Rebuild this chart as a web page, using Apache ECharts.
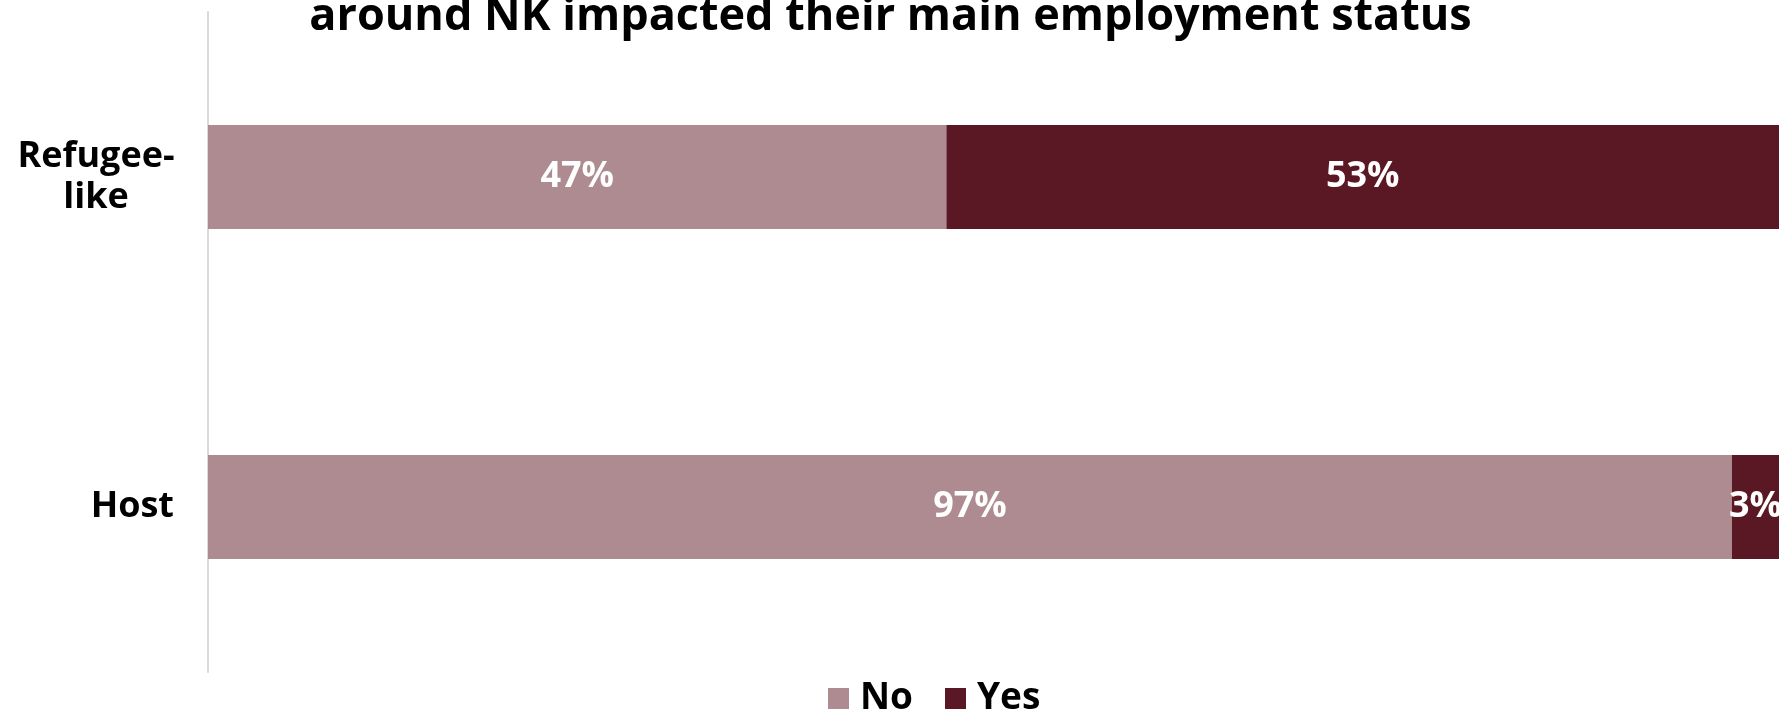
<!DOCTYPE html>
<html>
<head>
<meta charset="utf-8">
<style>
  html, body { margin: 0; padding: 0; background: #fff; }
  #chart { width: 1781px; height: 711px; }
</style>
<script src="https://cdn.jsdelivr.net/npm/echarts@6/dist/echarts.min.js"></script>
</head>
<body>
<div id="chart"></div>
<script>
// Share of respondents whose main employment status was impacted (%)
const categories = ['Refugee-like', 'Host'];
const noValues = [47, 97];
const yesValues = [53, 3];
const seriesNames = ['No', 'Yes'];
const titleText = 'around NK impacted their main employment status';

const FONT = '"Open Sans", "Noto Sans", sans-serif';
const COLOR_NO = '#ad8b91';
const COLOR_YES = '#5a1824';

const chart = echarts.init(document.getElementById('chart'));

const labelStyle = {
  show: true,
  position: 'inside',
  color: '#fff',
  fontFamily: FONT,
  fontWeight: 'bold',
  fontSize: 36,
  formatter: p => p.value + '%'
};

chart.setOption({
  animation: false,
  backgroundColor: '#fff',
  title: {
    text: titleText,
    left: 'center',
    top: -10,
    textStyle: {
      fontFamily: FONT,
      fontWeight: 'bold',
      fontSize: 45,
      color: '#000'
    }
  },
  legend: {
    data: seriesNames,
    left: 823,
    top: 675,
    itemWidth: 21,
    itemHeight: 21,
    itemGap: 32,
    icon: 'rect',
    textStyle: {
      fontFamily: FONT,
      fontWeight: 'bold',
      fontSize: 37,
      color: '#000',
      padding: [0, 0, 0, 6]
    }
  },
  grid: {
    left: 208,
    right: 2,
    top: 12,
    bottom: 39,
    containLabel: false
  },
  xAxis: {
    type: 'value',
    min: 0,
    max: 100,
    show: false
  },
  yAxis: {
    type: 'category',
    data: categories,
    inverse: true,
    axisLine: { show: true, lineStyle: { color: '#d9d9d9', width: 2 } },
    axisTick: { show: false },
    axisLabel: {
      margin: 34,
      color: '#000',
      fontFamily: FONT,
      fontWeight: 'bold',
      fontSize: 36,
      lineHeight: 41,
      formatter: v => {
        const i = v.indexOf('-');
        if (i >= 0) {
          return '{c|' + v.slice(0, i + 1) + '}\n{c|' + v.slice(i + 1) + '}';
        }
        return v;
      },
      rich: {
        c: {
          width: 156,
          align: 'center',
          fontFamily: FONT,
          fontWeight: 'bold',
          fontSize: 36,
          lineHeight: 41,
          color: '#000'
        }
      }
    }
  },
  series: [
    {
      name: seriesNames[0],
      type: 'bar',
      stack: 'total',
      data: noValues,
      barWidth: 104,
      itemStyle: { color: COLOR_NO },
      label: labelStyle
    },
    {
      name: seriesNames[1],
      type: 'bar',
      stack: 'total',
      data: yesValues,
      barWidth: 104,
      itemStyle: { color: COLOR_YES },
      label: labelStyle
    }
  ]
});
</script>
</body>
</html>
